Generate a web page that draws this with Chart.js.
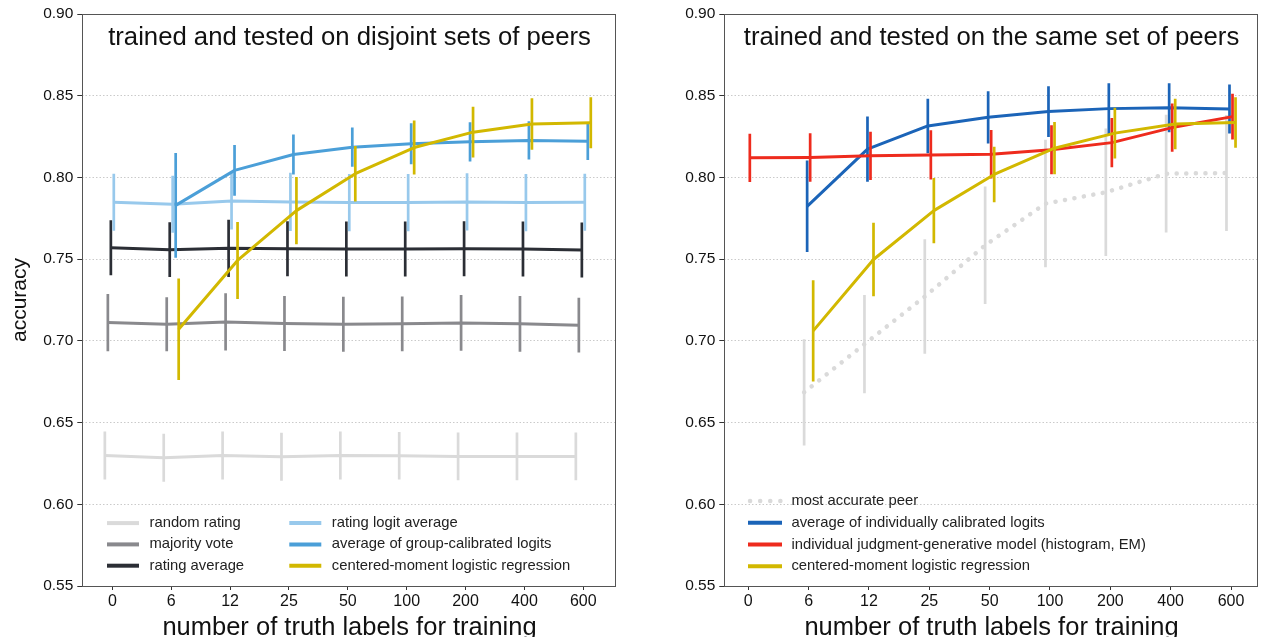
<!DOCTYPE html>
<html>
<head>
<meta charset="utf-8">
<title>accuracy vs number of truth labels for training</title>
<script src="https://cdn.jsdelivr.net/npm/chart.js@4.4.1/dist/chart.umd.min.js"></script>
<style>
  html, body { margin: 0; padding: 0; background: #fff; overflow: hidden; }
  #wrap { position: relative; width: 1262px; height: 637px; }
  #chartLeft { position: absolute; left: 0; top: 0; width: 640px; height: 637px; }
  #chartRight { position: absolute; left: 640px; top: 0; width: 622px; height: 637px; }
</style>
</head>
<body>
<div id="wrap">
  <canvas id="chartLeft" width="640" height="637"></canvas>
  <canvas id="chartRight" width="622" height="637"></canvas>
</div>
<script>
// categories and ticks
const xLabels = ['0', '6', '12', '25', '50', '100', '200', '400', '600'];
const yTicks = [0.55, 0.60, 0.65, 0.70, 0.75, 0.80, 0.85, 0.90];

// left panel: trained and tested on disjoint sets of peers
const randomRating = [0.6299, 0.6285, 0.6299, 0.6291, 0.6299, 0.6297, 0.6293, 0.6293, 0.6293];
const randomRatingErr = [0.0147, 0.0147, 0.0147, 0.0147, 0.0147, 0.0145, 0.0146, 0.0146, 0.0146];
const majorityVote = [0.7112, 0.7102, 0.7116, 0.7106, 0.7102, 0.7104, 0.7110, 0.7104, 0.7096];
const majorityVoteErr = [0.0175, 0.0165, 0.0175, 0.0168, 0.0168, 0.0168, 0.0170, 0.0170, 0.0168];
const ratingAverage = [0.7570, 0.7558, 0.7566, 0.7564, 0.7562, 0.7562, 0.7564, 0.7562, 0.7556];
const ratingAverageErr = [0.0168, 0.0168, 0.0175, 0.0168, 0.0168, 0.0168, 0.0168, 0.0168, 0.0168];
const ratingLogitAverage = [0.7848, 0.7836, 0.7856, 0.7850, 0.7846, 0.7846, 0.7850, 0.7846, 0.7848];
const ratingLogitAverageErr = [0.0175, 0.0175, 0.0175, 0.0178, 0.0175, 0.0175, 0.0175, 0.0175, 0.0175];
const groupCalibrated = [null, 0.7829, 0.8043, 0.8140, 0.8185, 0.8206, 0.8218, 0.8226, 0.8222];
const groupCalibratedErr = [null, 0.0320, 0.0155, 0.0122, 0.0120, 0.0125, 0.0120, 0.0117, 0.0115];
const centeredMomentA = [null, 0.7071, 0.7492, 0.7797, 0.8023, 0.8183, 0.8277, 0.8327, 0.8335];
const centeredMomentAErr = [null, 0.0310, 0.0236, 0.0206, 0.0170, 0.0165, 0.0155, 0.0157, 0.0156];

// right panel: trained and tested on the same set of peers
const mostAccuratePeer = [null, 0.6685, 0.6980, 0.7271, 0.7585, 0.7840, 0.7909, 0.8023, 0.8027];
const mostAccuratePeerErr = [null, 0.0325, 0.0300, 0.0350, 0.0360, 0.0390, 0.0390, 0.0360, 0.0355];
const individuallyCalibrated = [null, 0.7823, 0.8173, 0.8315, 0.8368, 0.8403, 0.8421, 0.8427, 0.8419];
const individuallyCalibratedErr = [null, 0.0280, 0.0200, 0.0167, 0.0160, 0.0155, 0.0155, 0.0150, 0.0150];
const judgmentGenerative = [0.8120, 0.8122, 0.8132, 0.8138, 0.8142, 0.8169, 0.8213, 0.8305, 0.8372];
const judgmentGenerativeErr = [0.0148, 0.0148, 0.0148, 0.0150, 0.0148, 0.0150, 0.0150, 0.0148, 0.0140];
const centeredMomentB = [null, 0.7061, 0.7498, 0.7797, 0.8018, 0.8179, 0.8271, 0.8327, 0.8336];
const centeredMomentBErr = [null, 0.0310, 0.0225, 0.0200, 0.0170, 0.0160, 0.0155, 0.0155, 0.0155];

Chart.defaults.font.family = '"Liberation Sans", Arial, Helvetica, sans-serif';
Chart.defaults.color = '#1a1a1a';

const DOT_DASH = [0.1, 9.5];

const leftSeries = [
  { label: 'random rating', values: randomRating, errors: randomRatingErr, color: '#dadada' },
  { label: 'majority vote', values: majorityVote, errors: majorityVoteErr, color: '#89898d' },
  { label: 'rating average', values: ratingAverage, errors: ratingAverageErr, color: '#2b2e35' },
  { label: 'rating logit average', values: ratingLogitAverage, errors: ratingLogitAverageErr, color: '#98c9ec' },
  { label: 'average of group-calibrated logits', values: groupCalibrated, errors: groupCalibratedErr, color: '#4b9fd8' },
  { label: 'centered-moment logistic regression', values: centeredMomentA, errors: centeredMomentAErr, color: '#d2b800' }
];
const rightSeries = [
  { label: 'most accurate peer', values: mostAccuratePeer, errors: mostAccuratePeerErr, color: '#dadada', dotted: true },
  { label: 'average of individually calibrated logits', values: individuallyCalibrated, errors: individuallyCalibratedErr, color: '#1b64b8' },
  { label: 'individual judgment-generative model (histogram, EM)', values: judgmentGenerative, errors: judgmentGenerativeErr, color: '#ee2b1d' },
  { label: 'centered-moment logistic regression', values: centeredMomentB, errors: centeredMomentBErr, color: '#d2b800' }
];

// small horizontal shift per series so the error bars don't overlap
const leftDodge = [-0.127, -0.076, -0.025, 0.025, 0.076, 0.127];
const rightDodge = [-0.075, -0.025, 0.025, 0.075];

function buildPoints(values, errors, dodge) {
  const pts = [];
  values.forEach((v, i) => {
    if (v === null) return;
    pts.push({ x: i + dodge, y: v, err: errors[i] });
  });
  return pts;
}

function makeDatasets(series, dodge) {
  return series.map((s, i) => ({
    label: s.label,
    data: buildPoints(s.values, s.errors, dodge[i]),
    borderColor: s.color,
    borderWidth: s.dotted ? 4.5 : 3,
    borderDash: s.dotted ? DOT_DASH : [],
    borderCapStyle: s.dotted ? 'round' : 'butt',
    borderJoinStyle: 'round',
    pointRadius: 0,
    tension: 0,
    fill: false,
    order: series.length - i,
    dotted: !!s.dotted
  }));
}

// error bars, spines, in-plot title and legend
const panelDecor = {
  id: 'panelDecor',
  afterDatasetDraw(chart, args) {
    const ds = chart.data.datasets[args.index];
    const xs = chart.scales.x, ys = chart.scales.y;
    const ctx = chart.ctx;
    const area = chart.chartArea;
    ctx.save();
    ctx.beginPath();
    ctx.rect(area.left, area.top, area.right - area.left, area.bottom - area.top);
    ctx.clip();
    ctx.strokeStyle = ds.borderColor;
    ctx.lineWidth = 2.7;
    ctx.lineCap = 'butt';
    ds.data.forEach((p) => {
      const px = xs.getPixelForValue(p.x);
      ctx.beginPath();
      ctx.moveTo(px, ys.getPixelForValue(p.y + p.err));
      ctx.lineTo(px, ys.getPixelForValue(p.y - p.err));
      ctx.stroke();
    });
    ctx.restore();
  },
  afterDraw(chart, args, opts) {
    const ctx = chart.ctx;
    const a = chart.chartArea;
    ctx.save();
    // spines
    ctx.lineWidth = 1;
    ctx.strokeStyle = '#555';
    ctx.strokeRect(Math.round(a.left) + 0.5, Math.round(a.top) + 0.5,
      Math.round(a.right - a.left) - 1, Math.round(a.bottom - a.top));

    // title inside plot
    ctx.fillStyle = '#111';
    ctx.font = '25.7px "Liberation Sans", Arial, Helvetica, sans-serif';
    ctx.textAlign = 'center';
    ctx.textBaseline = 'alphabetic';
    ctx.fillText(opts.title, (a.left + a.right) / 2, a.top + 30.5);

    // legend
    ctx.font = '14.8px "Liberation Sans", Arial, Helvetica, sans-serif';
    ctx.textAlign = 'left';
    ctx.textBaseline = 'middle';
    const datasets = chart.data.datasets;
    opts.items.forEach((it, i) => {
      const ds = datasets[i];
      const x0 = a.left + opts.colX[it.col];
      const y0 = a.bottom - opts.lastRow - (opts.rows - 1 - it.row) * opts.rowGap;
      ctx.beginPath();
      ctx.strokeStyle = ds.borderColor;
      ctx.lineWidth = ds.dotted ? 4.5 : 4;
      ctx.lineCap = ds.dotted ? 'round' : 'butt';
      ctx.setLineDash(ds.dotted ? [0.1, 10] : []);
      ctx.moveTo(x0 + (ds.dotted ? 2 : 0), y0);
      ctx.lineTo(x0 + opts.sample, y0);
      ctx.stroke();
      ctx.setLineDash([]);
      ctx.fillStyle = '#222';
      ctx.fillText(ds.label, x0 + opts.textGap, y0);
    });
    ctx.restore();
  }
};

function makeOptions(cfg) {
  return {
    responsive: false,
    animation: false,
    events: [],
    layout: { padding: { top: 14, right: cfg.padRight, left: 0, bottom: 0 } },
    plugins: {
      legend: { display: false },
      tooltip: { enabled: false },
      panelDecor: cfg.decor
    },
    scales: {
      x: {
        type: 'linear',
        min: cfg.xMin,
        max: cfg.xMax,
        afterBuildTicks: (scale) => { scale.ticks = xLabels.map((_, i) => ({ value: i })); },
        afterFit: (scale) => { scale.height = 51; },
        ticks: {
          callback: (v) => xLabels[v],
          font: { size: 16 },
          color: '#111',
          padding: 2,
          maxRotation: 0,
          autoSkip: false
        },
        grid: { drawOnChartArea: false, drawTicks: true, tickLength: 4, tickColor: '#333', tickWidth: 1 },
        border: { display: false },
        title: {
          display: true,
          text: 'number of truth labels for training',
          font: { size: 25.5, lineHeight: '18px' },
          color: '#111',
          padding: 0
        }
      },
      y: {
        min: 0.55,
        max: 0.90,
        afterBuildTicks: (scale) => { scale.ticks = yTicks.map((v) => ({ value: v })); },
        afterFit: (scale) => { scale.width = cfg.yWidth; },
        ticks: {
          callback: (v) => v.toFixed(2),
          font: { size: 15.5 },
          color: '#111',
          padding: 4
        },
        grid: { color: '#bdbdbd', lineWidth: 0.8, tickLength: 5, tickColor: '#333', tickWidth: 1 },
        border: { display: false, dash: [1.5, 2] },
        title: cfg.yTitle
          ? { display: true, text: cfg.yTitle, font: { size: 21, lineHeight: '22px' }, color: '#111', padding: { top: 9, bottom: 0 } }
          : { display: false }
      }
    }
  };
}

function init() {
  new Chart(document.getElementById('chartLeft').getContext('2d'), {
    type: 'line',
    data: { datasets: makeDatasets(leftSeries, leftDodge) },
    plugins: [panelDecor],
    options: makeOptions({
      xMin: -0.51, xMax: 8.567, yWidth: 82.3, padRight: 640 - 616.7, yTitle: 'accuracy',
      decor: {
        title: 'trained and tested on disjoint sets of peers',
        colX: [24.7, 207], sample: 32, textGap: 42.5, rows: 3, lastRow: 20.3, rowGap: 21.3,
        items: [
          { col: 0, row: 0 }, { col: 0, row: 1 }, { col: 0, row: 2 },
          { col: 1, row: 0 }, { col: 1, row: 1 }, { col: 1, row: 2 }
        ]
      }
    })
  });

  new Chart(document.getElementById('chartRight').getContext('2d'), {
    type: 'line',
    data: { datasets: makeDatasets(rightSeries, rightDodge) },
    plugins: [panelDecor],
    options: makeOptions({
      xMin: -0.398, xMax: 8.459, yWidth: 84.3, padRight: 622 - 618.7, yTitle: null,
      decor: {
        title: 'trained and tested on the same set of peers',
        colX: [23.7], sample: 34, textGap: 43.4, rows: 4, lastRow: 19.7, rowGap: 21.8,
        items: [{ col: 0, row: 0 }, { col: 0, row: 1 }, { col: 0, row: 2 }, { col: 0, row: 3 }]
      }
    })
  });
}

if (document.readyState === 'loading') {
  document.addEventListener('DOMContentLoaded', init);
} else {
  init();
}
</script>
</body>
</html>
